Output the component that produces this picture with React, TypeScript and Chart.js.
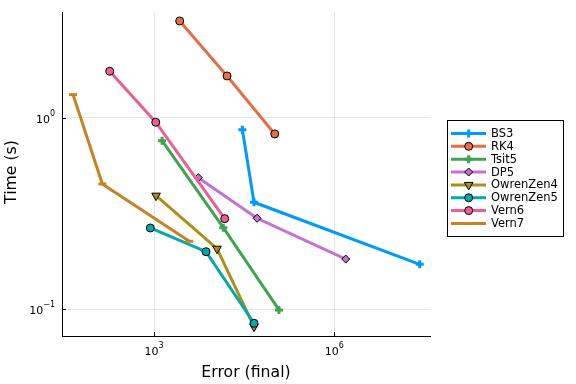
import { useEffect, useRef } from 'react';
import { Chart, registerables } from 'chart.js';
Chart.register(...registerables);

const seriesNames = ['BS3', 'RK4', 'Tsit5', 'DP5', 'OwrenZen4', 'OwrenZen5', 'Vern6', 'Vern7'];
const seriesColors = ['#009AFA', '#E36F47', '#3EA44E', '#C371D2', '#AC8E18', '#00A9AD', '#ED5E93', '#C68225'];
const seriesMarkers = ['cross', 'circle', 'cross', 'rectRot', 'triangleDown', 'circle', 'circle', 'line'];

const bs3Error = [2.95e4, 4.61e4, 2.64e7];
const bs3Time = [0.869, 0.3625, 0.1718];
const rk4Error = [2672, 1.64e4, 1.02e5];
const rk4Time = [3.214, 1.658, 0.825];
const tsit5Error = [1359, 1.42e4, 1.2e5];
const tsit5Time = [0.761, 0.267, 0.0992];
const dp5Error = [5456, 5.18e4, 1.55e6];
const dp5Time = [0.4875, 0.299, 0.183];
const owrenZen4Error = [1080, 1.117e4, 4.61e4];
const owrenZen4Time = [0.3925, 0.2073, 0.0811];
const owrenZen5Error = [867, 7330, 4.61e4];
const owrenZen5Time = [0.266, 0.2, 0.0845];
const vern6Error = [183, 1067, 1.5e4];
const vern6Time = [1.754, 0.95, 0.2976];
const vern7Error = [44.9, 138, 3864];
const vern7Time = [1.324, 0.452, 0.2266];

const errors = [bs3Error, rk4Error, tsit5Error, dp5Error, owrenZen4Error, owrenZen5Error, vern6Error, vern7Error];
const times = [bs3Time, rk4Time, tsit5Time, dp5Time, owrenZen4Time, owrenZen5Time, vern6Time, vern7Time];

const xTickValues = [1e3, 1e6];
const yTickValues = [0.1, 1];
const xRange = [29.4, 3.91e7];
const yRange = [0.0725, 3.58];
const xTitle = 'Error (final)';
const yTitle = 'Time (s)';

const FONT = '"DejaVu Sans", sans-serif';

function expLabel(v: number) {
  const e = Math.round(Math.log10(v));
  return e < 0 ? '\u2212' + String(-e) : String(e);
}

function drawMarker(ctx: CanvasRenderingContext2D, kind: string, x: number, y: number, color: string) {
  ctx.save();
  ctx.fillStyle = color;
  ctx.strokeStyle = '#000';
  ctx.lineWidth = 1;
  ctx.beginPath();
  if (kind === 'circle') {
    ctx.arc(x, y, 4, 0, Math.PI * 2);
    ctx.fill();
    ctx.stroke();
  } else if (kind === 'rectRot') {
    ctx.moveTo(x, y - 4);
    ctx.lineTo(x + 4, y);
    ctx.lineTo(x, y + 4);
    ctx.lineTo(x - 4, y);
    ctx.closePath();
    ctx.fill();
    ctx.stroke();
  } else if (kind === 'triangleDown') {
    const r = 5;
    ctx.moveTo(x, y + r);
    ctx.lineTo(x - r * Math.sin(Math.PI / 3), y - r / 2);
    ctx.lineTo(x + r * Math.sin(Math.PI / 3), y - r / 2);
    ctx.closePath();
    ctx.fill();
    ctx.stroke();
  } else if (kind === 'cross') {
    ctx.strokeStyle = color;
    ctx.lineWidth = 3;
    ctx.moveTo(x - 4, y);
    ctx.lineTo(x + 4, y);
    ctx.moveTo(x, y - 4);
    ctx.lineTo(x, y + 4);
    ctx.stroke();
  } else if (kind === 'line') {
    ctx.strokeStyle = color;
    ctx.lineWidth = 3;
    ctx.moveTo(x - 4, y);
    ctx.lineTo(x + 4, y);
    ctx.stroke();
  }
  ctx.restore();
}

const overlayPlugin = {
  id: 'overlay',
  afterDraw(chart: any) {
    const ctx: CanvasRenderingContext2D = chart.ctx;
    const xs = chart.scales.x;
    const ys = chart.scales.y;
    const area = chart.chartArea;
    ctx.save();
    // inner tick marks
    ctx.strokeStyle = '#000';
    ctx.lineWidth = 1;
    ctx.beginPath();
    xTickValues.forEach((v) => {
      const px = Math.round(xs.getPixelForValue(v)) + 0.5;
      ctx.moveTo(px, area.bottom);
      ctx.lineTo(px, area.bottom - 4);
    });
    yTickValues.forEach((v) => {
      const py = Math.round(ys.getPixelForValue(v)) + 0.5;
      ctx.moveTo(area.left, py);
      ctx.lineTo(area.left + 4, py);
    });
    ctx.stroke();

    // tick labels
    ctx.fillStyle = '#000';
    ctx.textBaseline = 'middle';
    ctx.textAlign = 'left';
    const baseFont = '11px ' + FONT;
    const expFont = '8px ' + FONT;
    xTickValues.forEach((v) => {
      const px = xs.getPixelForValue(v);
      ctx.font = baseFont;
      const wb = ctx.measureText('10').width;
      ctx.font = expFont;
      const e = expLabel(v);
      const we = ctx.measureText(e).width;
      const start = px - (wb + we) / 2;
      ctx.font = baseFont;
      ctx.fillText('10', start, 352);
      ctx.font = expFont;
      ctx.fillText(e, start + wb, 346);
    });
    yTickValues.forEach((v) => {
      const py = ys.getPixelForValue(v);
      ctx.font = baseFont;
      const wb = ctx.measureText('10').width;
      ctx.font = expFont;
      const e = expLabel(v);
      const we = ctx.measureText(e).width;
      const start = 55 - (wb + we);
      ctx.font = baseFont;
      ctx.fillText('10', start, py + 2);
      ctx.font = expFont;
      ctx.fillText(e, start + wb, py - 4);
    });

    // axis titles
    ctx.font = '15.7px ' + FONT;
    ctx.textAlign = 'center';
    ctx.fillText(xTitle, (area.left + area.right) / 2, 373);
    ctx.save();
    ctx.translate(11.5, 172);
    ctx.rotate(-Math.PI / 2);
    ctx.fillText(yTitle, 0, 0);
    ctx.restore();

    // legend
    const lx0 = 447, ly0 = 120, lx1 = 564, ly1 = 237;
    ctx.fillStyle = '#fff';
    ctx.fillRect(lx0, ly0, lx1 - lx0, ly1 - ly0);
    ctx.strokeStyle = '#000';
    ctx.lineWidth = 1;
    ctx.strokeRect(lx0 + 0.5, ly0 + 0.5, lx1 - lx0 - 1, ly1 - ly0 - 1);
    seriesNames.forEach((name, i) => {
      const y = 133.5 + i * 12.85;
      ctx.strokeStyle = seriesColors[i];
      ctx.lineWidth = 3;
      ctx.beginPath();
      ctx.moveTo(451, y);
      ctx.lineTo(486, y);
      ctx.stroke();
      drawMarker(ctx, seriesMarkers[i], 468.7, y, seriesColors[i]);
      ctx.fillStyle = '#000';
      ctx.font = '11.5px ' + FONT;
      ctx.textAlign = 'left';
      ctx.textBaseline = 'middle';
      ctx.fillText(name, 491, y + 0.5);
    });
    ctx.restore();
  },
};

export default function App() {
  const canvasRef = useRef<HTMLCanvasElement | null>(null);
  useEffect(() => {
    document.body.style.margin = '0';
    const canvas = canvasRef.current;
    if (!canvas) return;
    const n = seriesNames.length;
    const datasets = seriesNames.map((name, i) => {
      const kind = seriesMarkers[i];
      const isStroke = kind === 'cross' || kind === 'line';
      const pointStyle = kind === 'triangleDown' ? 'triangle' : kind;
      return {
        label: name,
        data: errors[i].map((x, j) => ({ x, y: times[i][j] })),
        borderColor: seriesColors[i],
        backgroundColor: seriesColors[i],
        borderWidth: 3,
        pointStyle,
        pointRotation: kind === 'triangleDown' ? 180 : 0,
        pointRadius: kind === 'triangleDown' ? 5 : 4,
        pointHoverRadius: 4,
        pointBackgroundColor: seriesColors[i],
        pointBorderColor: isStroke ? seriesColors[i] : '#000',
        pointBorderWidth: isStroke ? 3 : 1,
        tension: 0,
        fill: false,
        order: n - i,
      };
    });
    const chart = new Chart(canvas, {
      type: 'line',
      data: { datasets: datasets as any },
      options: {
        animation: false,
        responsive: true,
        maintainAspectRatio: false,
        layout: { padding: { top: 12, right: 146, left: 0, bottom: 0 } },
        plugins: { legend: { display: false }, tooltip: { enabled: false } },
        scales: {
          x: {
            type: 'logarithmic',
            min: xRange[0],
            max: xRange[1],
            afterBuildTicks: (s: any) => {
              s.ticks = xTickValues.map((v) => ({ value: v }));
            },
            afterFit: (s: any) => {
              s.height = 48;
            },
            ticks: { display: false },
            grid: { color: 'rgba(0,0,0,0.1)', lineWidth: 1, drawTicks: false },
            border: { display: true, color: '#000', width: 1 },
          },
          y: {
            type: 'logarithmic',
            min: yRange[0],
            max: yRange[1],
            afterBuildTicks: (s: any) => {
              s.ticks = yTickValues.map((v) => ({ value: v }));
            },
            afterFit: (s: any) => {
              s.width = 62;
            },
            ticks: { display: false },
            grid: { color: 'rgba(0,0,0,0.1)', lineWidth: 1, drawTicks: false },
            border: { display: true, color: '#000', width: 1 },
          },
        },
      },
      plugins: [overlayPlugin],
    });
    return () => chart.destroy();
  }, []);
  return (
    <div style={{ width: 576, height: 384, position: 'relative' }}>
      <canvas ref={canvasRef} />
    </div>
  );
}
